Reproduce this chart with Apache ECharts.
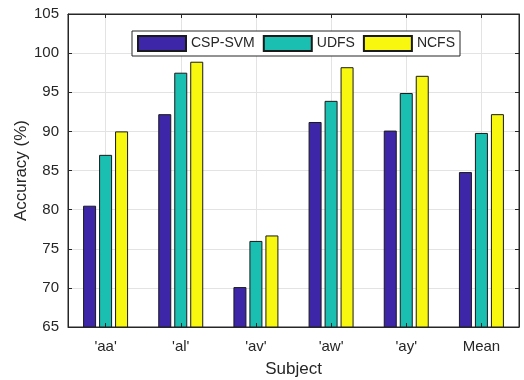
<!DOCTYPE html>
<html>
<head>
<meta charset="utf-8">
<script src="https://cdn.jsdelivr.net/npm/echarts@6/dist/echarts.min.js"></script>
<style>html,body{margin:0;padding:0;background:#fff;}#c{width:524px;height:380px;}</style>
</head>
<body>
<div id="c"></div>
<script>
const categories = ["'aa'", "'al'", "'av'", "'aw'", "'ay'", "Mean"];
const cspSvm = [80.5, 92.2, 70.1, 91.2, 90.1, 84.8];
const udfs = [87.0, 97.5, 76.0, 93.9, 94.9, 89.8];
const ncfs = [90.0, 98.9, 76.7, 98.2, 97.1, 92.2];
const yTicks = [65, 70, 75, 80, 85, 90, 95, 100, 105];

const font = 'Arial, "Liberation Sans", Helvetica, sans-serif';
const axisColor = '#262626';
const gridColor = '#e3e3e3';

// helper axis: half-category steps so vertical grid lines sit on category centres
const halfSteps = [];
for (let i = 0; i <= categories.length * 2; i++) halfSteps.push(String(i));

const chart = echarts.init(document.getElementById('c'), null, {renderer: 'canvas'});
function bar(name, data, color) {
  return {
    name, type: 'bar', data, barWidth: 13, barGap: '23%',
    itemStyle: {color, borderColor: '#1a1a1a', borderWidth: 1},
    xAxisIndex: 0, yAxisIndex: 0
  };
}
chart.setOption({
  animation: false,
  backgroundColor: '#fff',
  textStyle: {fontFamily: font},
  grid: {left: 68, right: 5, top: 14, bottom: 53, show: true, borderColor: axisColor, borderWidth: 1,
         outerBoundsMode: 'none', containLabel: false},
  legend: {
    left: 132, top: 31, padding: [4, 5, 4, 5], itemGap: 8, itemWidth: 48, itemHeight: 15,
    icon: 'rect',
    borderColor: axisColor, borderWidth: 1, backgroundColor: '#fff', borderRadius: 0,
    textStyle: {fontSize: 14, color: '#262626', fontFamily: font},
    data: ['CSP-SVM', 'UDFS', 'NCFS']
  },
  xAxis: [{
    type: 'category', data: categories, position: 'bottom',
    name: 'Subject', nameLocation: 'middle', nameGap: 34, nameMoveOverlap: false,
    nameTextStyle: {fontSize: 17, color: '#262626', fontFamily: font},
    axisLine: {show: true, lineStyle: {color: axisColor}},
    axisTick: {show: true, inside: true, alignWithLabel: true, length: 4, lineStyle: {color: axisColor}},
    axisLabel: {fontSize: 15, color: '#262626', margin: 12, fontFamily: font},
    splitLine: {show: false},
    z: 5
  }, {
    type: 'category', data: categories, position: 'top',
    axisLine: {show: true, lineStyle: {color: axisColor}},
    axisTick: {show: true, inside: true, alignWithLabel: true, length: 4, lineStyle: {color: axisColor}},
    axisLabel: {show: false}, splitLine: {show: false}
  }, {
    type: 'category', data: halfSteps, boundaryGap: false, position: 'bottom',
    axisLine: {show: false}, axisTick: {show: false}, axisLabel: {show: false},
    splitLine: {show: true, interval: function (idx) { return idx % 2 === 1; }, lineStyle: {color: gridColor}},
    z: 0
  }],
  yAxis: [{
    type: 'value', min: yTicks[0], max: yTicks[yTicks.length - 1], interval: 5,
    name: 'Accuracy (%)', nameLocation: 'middle', nameGap: 38, nameMoveOverlap: false,
    nameTextStyle: {fontSize: 17, color: '#262626', fontFamily: font},
    axisLine: {show: true, lineStyle: {color: axisColor}},
    axisTick: {show: true, inside: true, length: 4, lineStyle: {color: axisColor}},
    axisLabel: {fontSize: 15, color: '#262626', margin: 9, fontFamily: font},
    splitLine: {show: true, lineStyle: {color: gridColor}}
  }, {
    type: 'value', min: yTicks[0], max: yTicks[yTicks.length - 1], interval: 5, position: 'right',
    axisLine: {show: true, lineStyle: {color: axisColor}},
    axisTick: {show: true, inside: true, length: 4, lineStyle: {color: axisColor}},
    axisLabel: {show: false}, splitLine: {show: false}
  }],
  series: [
    bar('CSP-SVM', cspSvm, '#3e26a8'),
    bar('UDFS', udfs, '#1bbfb2'),
    bar('NCFS', ncfs, '#f7f70f')
  ]
});
</script>
</body>
</html>
